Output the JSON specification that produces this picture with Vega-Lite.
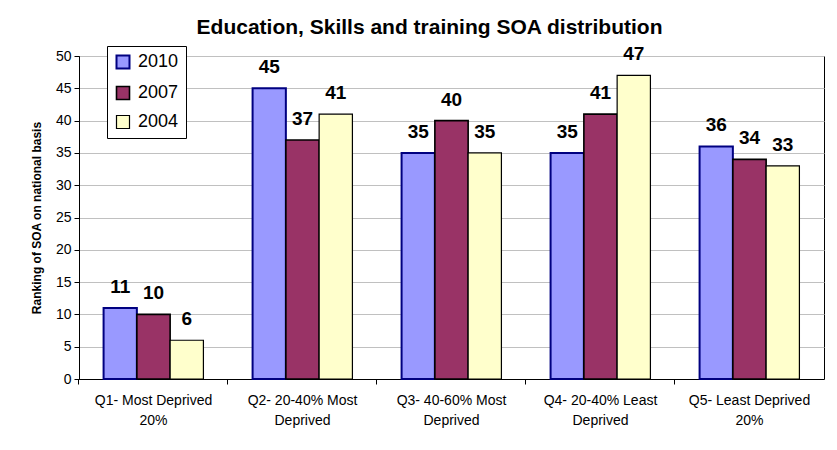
{
  "$schema": "https://vega.github.io/schema/vega-lite/v6.json",
  "autosize": "none",
  "width": 745,
  "height": 323,
  "padding": {"left": 79, "top": 56, "right": 13, "bottom": 71},
  "background": "white",
  "config": {
    "font": "Liberation Sans",
    "view": {"stroke": "#000", "strokeWidth": 1},
    "axis": {"labelFont": "Liberation Sans", "titleFont": "Liberation Sans", "labelColor": "#000", "titleColor": "#000"}
  },
  "title": {
    "text": "Education, Skills and training SOA distribution",
    "fontSize": 21,
    "fontWeight": "bold",
    "font": "Liberation Sans",
    "color": "#000",
    "anchor": "middle",
    "dx": -22,
    "offset": 7
  },
  "data": {
    "values": [
      {"quintile": "Q1- Most Deprived 20%", "year": "2010", "rank": 11},
      {"quintile": "Q1- Most Deprived 20%", "year": "2007", "rank": 10},
      {"quintile": "Q1- Most Deprived 20%", "year": "2004", "rank": 6},
      {"quintile": "Q2- 20-40% Most Deprived", "year": "2010", "rank": 45},
      {"quintile": "Q2- 20-40% Most Deprived", "year": "2007", "rank": 37},
      {"quintile": "Q2- 20-40% Most Deprived", "year": "2004", "rank": 41},
      {"quintile": "Q3- 40-60% Most Deprived", "year": "2010", "rank": 35},
      {"quintile": "Q3- 40-60% Most Deprived", "year": "2007", "rank": 40},
      {"quintile": "Q3- 40-60% Most Deprived", "year": "2004", "rank": 35},
      {"quintile": "Q4- 20-40% Least Deprived", "year": "2010", "rank": 35},
      {"quintile": "Q4- 20-40% Least Deprived", "year": "2007", "rank": 41},
      {"quintile": "Q4- 20-40% Least Deprived", "year": "2004", "rank": 47},
      {"quintile": "Q5- Least Deprived 20%", "year": "2010", "rank": 36},
      {"quintile": "Q5- Least Deprived 20%", "year": "2007", "rank": 34},
      {"quintile": "Q5- Least Deprived 20%", "year": "2004", "rank": 33}
    ]
  },
  "encoding": {
    "x": {
      "field": "quintile",
      "type": "nominal",
      "sort": null,
      "scale": {"paddingInner": 0.33, "paddingOuter": 0.165},
      "axis": {
        "title": null,
        "bandPosition": -0.2463,
        "labelOffset": 0,
        "labelAngle": 0,
        "labelAlign": "center",
        "labelFontSize": 14,
        "labelLineHeight": 20,
        "labelPadding": 9,
        "labelBaseline": "top",
        "tickSize": 5,
        "tickColor": "#000",
        "domainColor": "#000",
        "labelExpr": "datum.label == 'Q1- Most Deprived 20%' ? ['Q1- Most Deprived', '20%'] : datum.label == 'Q2- 20-40% Most Deprived' ? ['Q2- 20-40% Most', 'Deprived'] : datum.label == 'Q3- 40-60% Most Deprived' ? ['Q3- 40-60% Most', 'Deprived'] : datum.label == 'Q4- 20-40% Least Deprived' ? ['Q4- 20-40% Least', 'Deprived'] : ['Q5- Least Deprived', '20%']"
      }
    },
    "xOffset": {"field": "year", "type": "nominal", "sort": ["2010", "2007", "2004"], "scale": {"paddingInner": 0, "paddingOuter": 0}},
    "y": {
      "field": "rank",
      "type": "quantitative",
      "scale": {"domain": [0, 50], "nice": false},
      "axis": {
        "title": "Ranking of SOA on national basis",
        "titleFontSize": 12,
        "titleFontWeight": "bold",
        "titlePadding": 12,
        "values": [0, 5, 10, 15, 20, 25, 30, 35, 40, 45, 50],
        "labelFontSize": 14,
        "labelPadding": 3,
        "tickSize": 5,
        "tickColor": "#000",
        "domainColor": "#000",
        "gridColor": "#C0C0C0",
        "grid": true
      }
    }
  },
  "layer": [
    {
      "mark": {"type": "bar"},
      "encoding": {
        "fill": {
          "field": "year",
          "type": "nominal",
          "sort": ["2010", "2007", "2004"],
          "scale": {"domain": ["2010", "2007", "2004"], "range": ["#9999FF", "#993366", "#FFFFCC"]},
          "legend": {
            "title": null,
            "orient": "none",
            "legendX": 28,
            "legendY": -10,
            "direction": "vertical",
            "symbolType": "square",
            "symbolSize": 169,
            "symbolStrokeWidth": 1.5,
            "symbolOpacity": 1,
            "labelFontSize": 18,
            "labelColor": "#000",
            "labelFont": "Liberation Sans",
            "rowPadding": 10,
            "strokeColor": "#000",
            "fillColor": "white",
            "padding": 7,
            "labelOffset": 6
          }
        },
        "stroke": {
          "field": "year",
          "type": "nominal",
          "sort": ["2010", "2007", "2004"],
          "scale": {"domain": ["2010", "2007", "2004"], "range": ["#000080", "#000000", "#000000"]},
          "legend": null
        },
        "strokeWidth": {
          "field": "year",
          "type": "nominal",
          "scale": {"domain": ["2010", "2007", "2004"], "range": [2, 1.2, 1.2]},
          "legend": null
        }
      }
    },
    {
      "mark": {"type": "text", "baseline": "alphabetic", "dy": -15, "fontSize": 19, "fontWeight": "bold", "font": "Liberation Sans", "color": "#000"},
      "encoding": {"text": {"field": "rank", "type": "quantitative"}}
    }
  ]
}
